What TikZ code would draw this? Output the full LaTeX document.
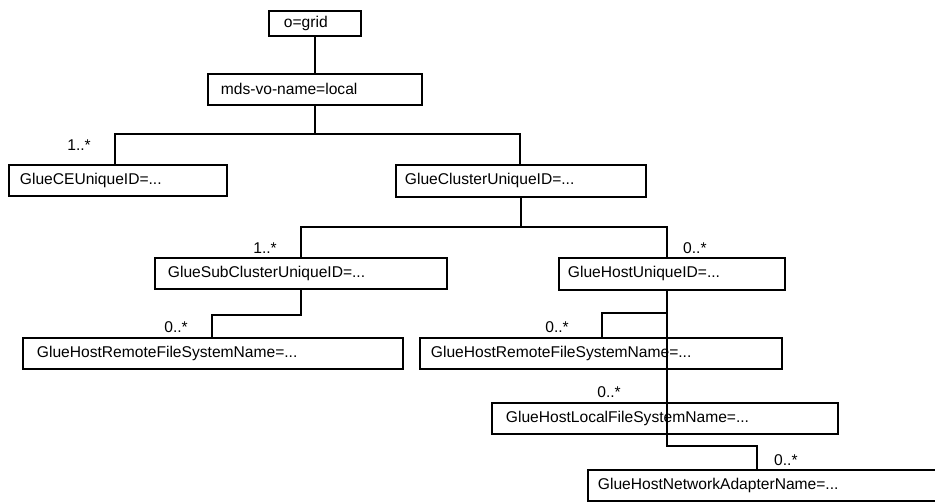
\documentclass[tikz,border=0pt]{standalone}
\usepackage{fontspec}
\setmainfont{Liberation Sans}
\begin{document}
\begin{tikzpicture}[x=1pt,y=-1pt,
  every node/.style={font=\fontsize{15.6}{18}\selectfont},
  box/.style={draw, line width=1.8pt, rectangle, anchor=north west,
    inner ysep=0pt, align=left},
  conn/.style={line width=1.8pt},
  mult/.style={inner sep=0pt}]
\useasboundingbox (0,0) rectangle (935,501);
\clip (0,0) rectangle (935,501);
% boxes: position, width W, padding p -> inner xsep=p, text width=W-2p
\node[box, inner xsep=15pt, text width=62pt, minimum height=25pt] (grid) at (268,10) {o=grid};
\node[box, inner xsep=13pt, text width=188pt, minimum height=31pt] (mds) at (207,73) {mds-vo-name=local};
\node[box, inner xsep=11pt, text width=196pt, minimum height=31pt] (ce) at (8,164) {GlueCEUniqueID=...};
\node[box, inner xsep=9pt, text width=232pt, minimum height=32pt] (cluster) at (395,164) {GlueClusterUniqueID=...};
\node[box, inner xsep=13pt, text width=266pt, minimum height=31pt] (sub) at (154,257) {GlueSubClusterUniqueID=...};
\node[box, inner xsep=9pt, text width=208pt, minimum height=32pt] (host) at (558,257) {GlueHostUniqueID=...};
\node[box, inner xsep=14pt, text width=352pt, minimum height=31pt] (rfsl) at (22,337) {GlueHostRemoteFileSystemName=...};
\node[box, inner xsep=11pt, text width=340pt, minimum height=31pt] (rfsr) at (419,337) {GlueHostRemoteFileSystemName=...};
\node[box, inner xsep=14pt, text width=318pt, minimum height=31pt] (lfs) at (491,402) {GlueHostLocalFileSystemName=...};
\node[box, inner xsep=10pt, text width=340pt, minimum height=31pt] (net) at (587,469) {GlueHostNetworkAdapterName=...};
% junction coordinates
\coordinate (a1) at (115,134);
\coordinate (a2) at (520,134);
\coordinate (b1) at (301,227);
\coordinate (b2) at (667,227);
\coordinate (c2) at (212,315);
\coordinate (d1) at (667,313);
\coordinate (d2) at (602,313);
\coordinate (e1) at (667,446);
\coordinate (e2) at (757,446);
% connectors
\draw[conn] (grid.south) -- (grid.south |- mds.north);
\draw[conn] (mds.south) -- (mds.south |- a1);
\draw[conn] (a1 |- ce.north) -- (a1) -- (a2) -- (a2 |- cluster.north);
\draw[conn] (cluster.south) |- (b1) -- (b1 |- sub.north);
\draw[conn] (cluster.south) |- (b2) -- (b2 |- host.north);
\draw[conn] (sub.south) |- (c2) -- (c2 |- rfsl.north);
\draw[conn] (d1 |- host.south) -- (d1) -- (d2) -- (d2 |- rfsr.north);
\draw[conn] (d1) -- (e1) -- (e2) -- (e2 |- net.north);
% multiplicities
\node[mult, anchor=base east] (m1) at (91,150) {1..*};
\node[mult, anchor=base east] (m2) at (277,253) {1..*};
\node[mult, anchor=base west] (m3) at (683,253) {0..*};
\node[mult, anchor=base east] (m4) at (188,332) {0..*};
\node[mult, anchor=base east] (m5) at (569,332) {0..*};
\node[mult, anchor=base east] (m6) at (621,397) {0..*};
\node[mult, anchor=base west] (m7) at (774,465) {0..*};
\end{tikzpicture}
\end{document}
